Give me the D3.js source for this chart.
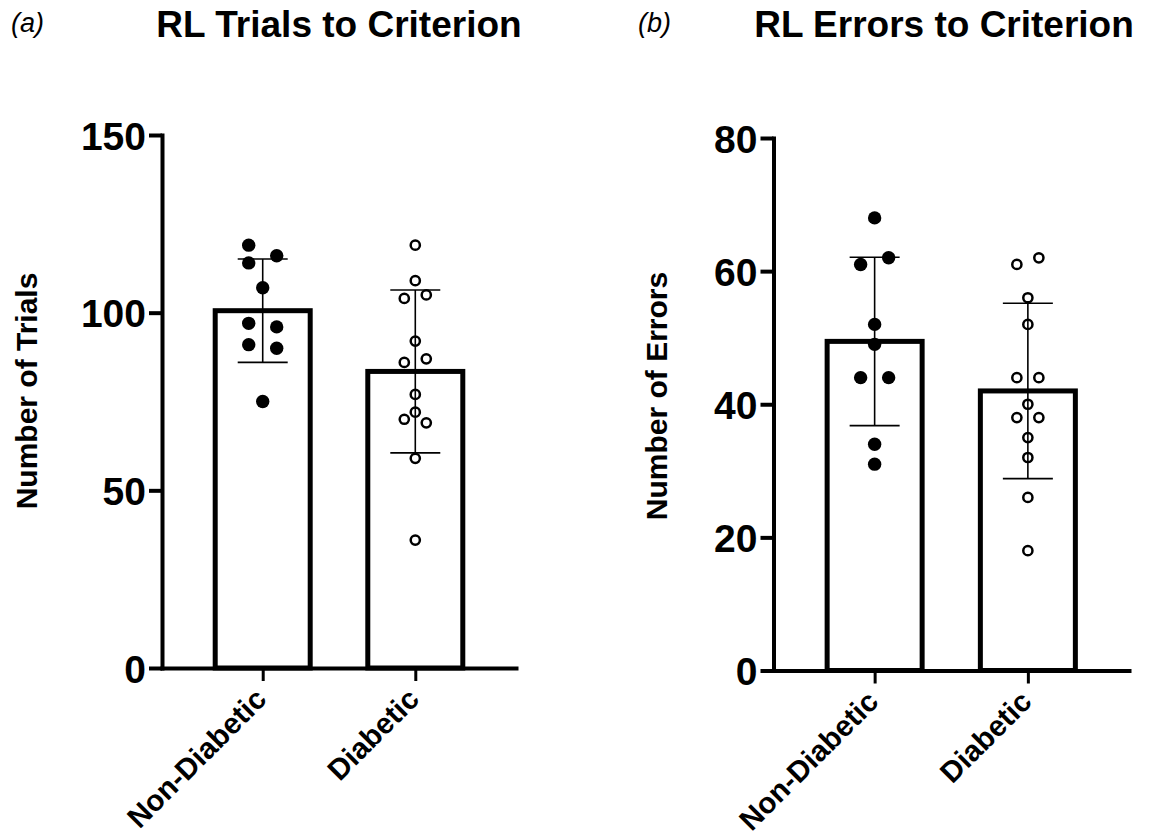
<!DOCTYPE html>
<html>
<head>
<meta charset="utf-8">
<script src="https://cdn.jsdelivr.net/npm/d3@7"></script>
<style>
  html, body { margin: 0; padding: 0; background: #fff; }
  svg { display: block; font-family: "Liberation Sans", Arial, Helvetica, sans-serif; }
</style>
</head>
<body>
<svg id="chart" width="1153" height="837"></svg>
<script>
// ---- data ----
const categories = ["Non-Diabetic", "Diabetic"];
const trialsNonDiabetic = [119, 116, 114, 107, 97, 96, 91, 90, 75];
const trialsDiabetic = [119, 109, 104, 105, 92, 86, 87, 77, 72, 70, 69, 59, 36];
const errorsNonDiabetic = [68, 61, 62, 52, 49, 44, 44, 34, 31];
const errorsDiabetic = [61, 62, 56, 52, 44, 44, 40, 38, 38, 35, 32, 26, 18];
const trialsTicks = [0, 50, 100, 150];
const errorsTicks = [0, 20, 40, 60, 80];
const panelLabels = ["(a)", "(b)"];
const panelTitles = ["RL Trials to Criterion", "RL Errors to Criterion"];
const yTitles = ["Number of Trials", "Number of Errors"];

// ---- layout ----
const panels = [
  { label: panelLabels[0], title: panelTitles[0], yTitle: yTitles[0],
    groups: [trialsNonDiabetic, trialsDiabetic], ticks: trialsTicks,
    axisX: 162, y0: 668, yTop: 135, xRight: 516,
    labelX: 11, titleX: 339, yTitleX: 37, yTitleY: 391 },
  { label: panelLabels[1], title: panelTitles[1], yTitle: yTitles[1],
    groups: [errorsNonDiabetic, errorsDiabetic], ticks: errorsTicks,
    axisX: 773.5, y0: 670.5, yTop: 138, xRight: 1129,
    labelX: 638, titleX: 944, yTitleX: 667, yTitleY: 396 }
];

const svg = d3.select("#chart");
const filledR = 6.7, openR = 4.6, openStroke = 2.5;

function swarmOffsets(values, y, s, D) {
  const idx = values.map((v, i) => i).sort((a, b) => values[b] - values[a] || a - b);
  const clusters = [];
  let cur = [];
  idx.forEach(i => {
    if (cur.length && Math.abs(y(values[i]) - y(values[cur[cur.length - 1]])) >= D) {
      clusters.push(cur); cur = [];
    }
    cur.push(i);
  });
  if (cur.length) clusters.push(cur);
  const off = new Array(values.length).fill(0);
  clusters.forEach(c => {
    if (c.length === 1) off[c[0]] = 0;
    else if (c.length === 2) {
      const byIdx = c.slice().sort((a, b) => a - b);
      off[byIdx[0]] = -s; off[byIdx[1]] = s;
    } else if (c.length === 3) {
      const span = Math.abs(y(values[c[0]]) - y(values[c[2]]));
      const pat = span >= D ? [-s, s, -s] : [0, -s, s];
      c.forEach((i, k) => off[i] = pat[k]);
    } else {
      c.forEach((i, k) => off[i] = (k === 0 ? 0 : (k % 2 ? -1 : 1) * Math.ceil(k / 2) * s));
    }
  });
  return off;
}

panels.forEach(p => {
  const yMax = d3.max(p.ticks);
  const y = d3.scaleLinear().domain([0, yMax]).range([p.y0, p.yTop]);
  const x = d3.scalePoint().domain(categories).range([p.axisX, p.xRight]).padding(0.66);
  const barW = 95;

  const g = svg.append("g");

  const stats = p.groups.map((vals, i) => ({
    cat: categories[i], vals,
    mean: d3.mean(vals), sd: d3.deviation(vals), filled: i === 0
  }));

  // bars
  g.selectAll("rect.bar").data(stats).join("rect")
    .attr("class", "bar")
    .attr("x", d => x(d.cat) - barW / 2)
    .attr("width", barW)
    .attr("y", d => y(d.mean))
    .attr("height", d => p.y0 - y(d.mean))
    .attr("fill", "#fff")
    .attr("stroke", "#000")
    .attr("stroke-width", 5);

  // y axis
  const yAxis = g.append("g")
    .attr("transform", `translate(${p.axisX},0)`)
    .call(d3.axisLeft(y).tickValues(p.ticks).tickSize(13).tickSizeOuter(0).tickPadding(3));
  yAxis.select(".domain").attr("stroke-width", 4).attr("stroke-linecap", "square");
  yAxis.selectAll(".tick line").attr("stroke-width", 4);
  yAxis.selectAll(".tick text")
    .attr("font-size", 39).attr("font-weight", "bold")
    .attr("font-family", "Liberation Sans, Arial, sans-serif")
    .attr("fill", "#000").attr("dy", "0.36em");

  // x axis
  const xAxis = g.append("g")
    .attr("transform", `translate(0,${p.y0})`)
    .call(d3.axisBottom(x).tickSize(13).tickSizeOuter(0));
  xAxis.select(".domain").attr("stroke-width", 4).attr("stroke-linecap", "square");
  xAxis.selectAll(".tick line").attr("stroke-width", 3);
  xAxis.selectAll(".tick text")
    .attr("y", null).attr("dy", null)
    .attr("transform", "translate(5,33) rotate(-45)")
    .attr("text-anchor", "end")
    .attr("font-size", 29.5).attr("font-weight", "bold")
    .attr("font-family", "Liberation Sans, Arial, sans-serif")
    .attr("fill", "#000");

  // error bars (mean ± SD)
  const capW = 25;
  stats.forEach(d => {
    const cx = x(d.cat);
    const eg = g.append("g").attr("stroke", "#000").attr("stroke-width", 1.6);
    eg.append("line").attr("x1", cx).attr("x2", cx)
      .attr("y1", y(d.mean + d.sd)).attr("y2", y(d.mean - d.sd));
    [d.mean + d.sd, d.mean - d.sd].forEach(v => {
      eg.append("line").attr("x1", cx - capW).attr("x2", cx + capW)
        .attr("y1", y(v)).attr("y2", y(v));
    });
  });

  // individual points
  stats.forEach(d => {
    const s = d.filled ? 14 : 11;
    const offs = swarmOffsets(d.vals, y, s, 12);
    const cx = x(d.cat);
    g.append("g").selectAll("circle").data(d.vals).join("circle")
      .attr("cx", (v, i) => cx + offs[i])
      .attr("cy", v => y(v))
      .attr("r", d.filled ? filledR : openR)
      .attr("fill", d.filled ? "#000" : "none")
      .attr("stroke", d.filled ? "none" : "#000")
      .attr("stroke-width", d.filled ? 0 : openStroke);
  });

  // y-axis title
  g.append("text")
    .attr("transform", `translate(${p.yTitleX},${p.yTitleY}) rotate(-90)`)
    .attr("text-anchor", "middle")
    .attr("font-size", 30).attr("font-weight", "bold")
    .text(p.yTitle);

  // panel label and title
  g.append("text")
    .attr("x", p.labelX).attr("y", 32)
    .attr("font-size", 27).attr("font-style", "italic")
    .text(p.label);
  g.append("text")
    .attr("x", p.titleX).attr("y", 37)
    .attr("text-anchor", "middle")
    .attr("font-size", 37).attr("font-weight", "bold")
    .text(p.title);
});
</script>
</body>
</html>
